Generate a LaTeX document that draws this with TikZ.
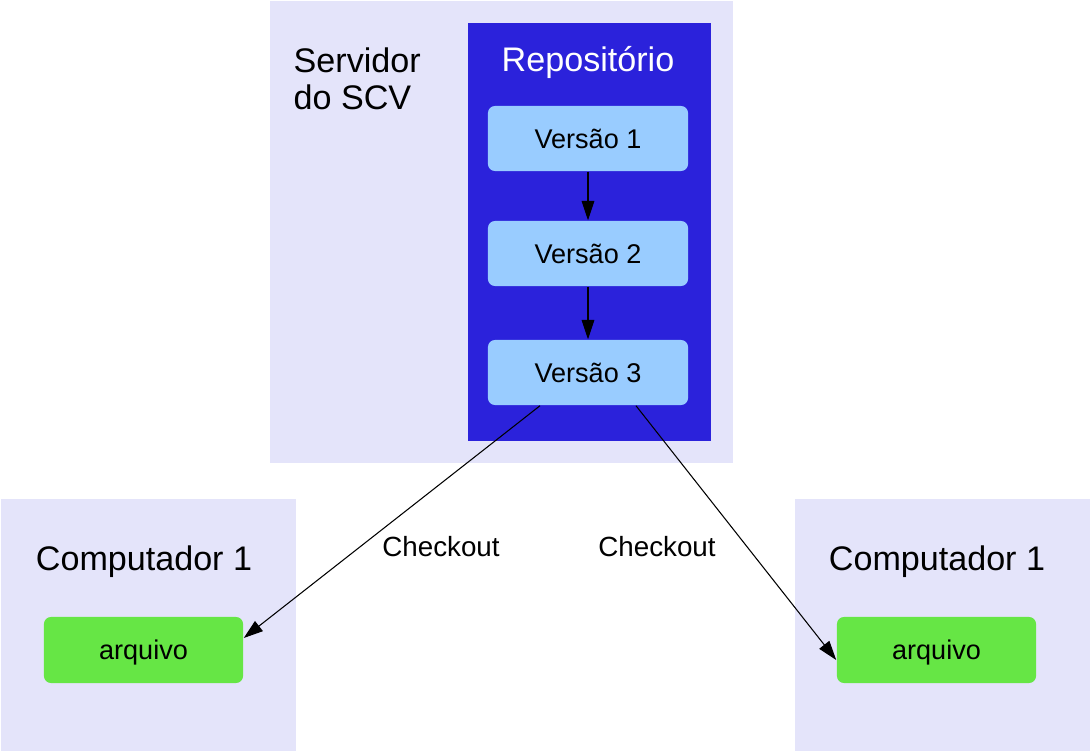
\documentclass[tikz,border=0pt]{standalone}
\usepackage{fontspec}
\setmainfont{Liberation Sans}
\usetikzlibrary{positioning,calc,arrows.meta}
\definecolor{lavanda}{HTML}{E4E4FA}
\definecolor{azulrepo}{HTML}{2B22DB}
\definecolor{azulversao}{HTML}{99CCFF}
\definecolor{verdearq}{HTML}{66E645}
\tikzset{
  >={Triangle[length=5.5pt,width=3.6pt]},
  caixa/.style={fill=lavanda,draw=none,inner sep=0pt,anchor=north west},
  versao/.style={fill=azulversao,rounded corners=2pt,minimum width=2cm,minimum height=0.65cm,font=\fontsize{7.7}{9}\selectfont},
  arquivo/.style={fill=verdearq,rounded corners=2pt,minimum width=1.99cm,minimum height=0.66cm,text depth=0pt,font=\fontsize{7.7}{9}\selectfont},
  titulo/.style={font=\fontsize{9.7}{10.6}\selectfont,inner sep=0pt},
  fio/.style={line width=0.3pt}
}

\begin{document}
\begin{tikzpicture}[x=0.01cm,y=-0.01cm]
\useasboundingbox (0,0) rectangle (1090,751);
% servidor e repositorio
\node[caixa,minimum width=4.63cm,minimum height=4.62cm] (servidor) at (269,0) {};
\node[caixa,fill=azulrepo,minimum width=2.43cm,minimum height=4.18cm] (repo) at (467,22) {};
\node[titulo,anchor=north west,align=left] (servidortxt) at (293,47) {Servidor\\do SCV};
\node[titulo,text=white] (repotxt) at (588,62) {Repositório};
% versoes
\node[versao] (v1) at (588,138.5) {Versão 1};
\node[versao] (v2) at (588,253.5) {Versão 2};
\node[versao] (v3) at (588,372.5) {Versão 3};
\draw[fio,->] (v1) -- (v2);
\draw[fio,->] (v2) -- (v3);
% computadores
\node[caixa,minimum width=2.95cm,minimum height=2.53cm] (pcA) at (0,498) {};
\node[caixa,minimum width=2.96cm,minimum height=2.53cm] (pcB) at (794,498) {};
\node[titulo,anchor=base] (pcAtxt) at (144,570) {Computador 1};
\node[titulo,anchor=base] (pcBtxt) at (937,570) {Computador 1};
\node[arquivo] (arqA) at (143.5,650) {arquivo};
\node[arquivo] (arqB) at (936.5,650) {arquivo};
% checkout
\draw[fio,->] ($(v3.south)+(-48,0)$) -- ($(arqA.east)+(0,-12)$);
\draw[fio,->] ($(v3.south)+(48,0)$) -- ($(arqB.west)+(0,10)$);
\node[font=\fontsize{7.9}{9}\selectfont] (checkA) at (441,547) {Checkout};
\node[font=\fontsize{7.9}{9}\selectfont] (checkB) at (657,547) {Checkout};
\end{tikzpicture}
\end{document}
